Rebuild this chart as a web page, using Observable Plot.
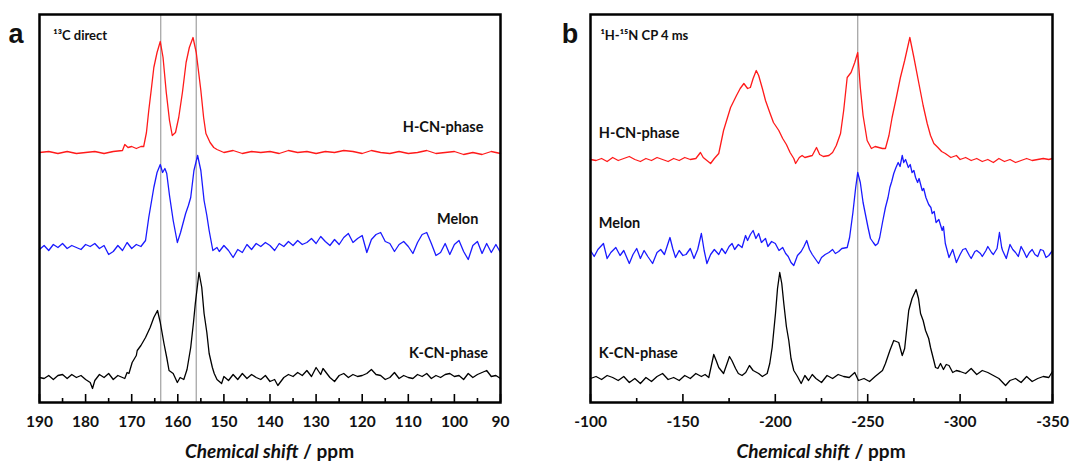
<!DOCTYPE html>
<html><head><meta charset="utf-8">
<script src="https://cdn.jsdelivr.net/npm/d3@7"></script>
<script src="https://cdn.jsdelivr.net/npm/@observablehq/plot@0.6"></script>
<style>
body{margin:0;background:#fff;}
#wrap{position:relative;width:1090px;height:462px;overflow:hidden;}
.panel{position:absolute;top:0;}
</style></head><body><div id="wrap"></div>
<script>
// ---------- DATA (chemical shift in ppm, intensity above each trace baseline) ----------
const c13_HCN = [[190,0],[188,1],[186,-1],[184,1],[182,-1],[180,0],[178,1],[176,-1],[174,1],[172,2],[171.5,8],[170.8,5],[170,6],[169,4],[168,6],[167.4,6],[166.8,20],[166.3,42],[165.7,65],[165.2,85],[164.5,100],[163.8,111],[163.2,95],[162.5,60],[161.8,32],[161.2,17],[160.5,20],[159.8,35],[159,60],[158.2,90],[157.5,105],[156.7,115],[156,100],[155,62],[154.4,35],[153.9,19],[153,10],[152.2,5],[151.5,3],[150,0],[148,2],[146,-1],[144,1],[142,0],[140,1],[138,-1],[136,2],[134,0],[132,1],[130,-1],[128,1],[126,0],[124,2],[122,1],[120,-1],[118,2],[116,0],[114,-1],[112,1],[110,-1],[108,0],[106,2],[104,-1],[102,0],[100,1],[98,-2],[96,0],[94,-2],[92,1],[90,-1]];
const c13_Melon = [[190,-2],[189,2],[188,-3],[187,3],[186,0],[185,4],[184,-1],[183,2],[182,0],[181,-2],[180,3],[179,1],[178,4],[177,-1],[176,2],[175,-7],[174,-4],[173,2],[172,-3],[171,5],[170,-1],[169,3],[168,1],[167.5,4],[167,7],[166.3,30],[165.2,60],[164.5,75],[163.8,83],[163.3,75],[162.8,79],[162.4,74],[161.8,52],[161,27],[160.1,5],[159.4,15],[158.3,34],[157.7,42],[157.2,50],[156.5,77],[155.7,92],[155,77],[154.3,47],[153.7,32],[153.2,17],[152.4,-3],[151.5,0],[151,-4],[150,2],[149,-3],[148,-10],[147,-2],[146,-5],[145,3],[144,-2],[143,4],[142,1],[141,5],[140,2],[139,-3],[138,4],[137,1],[136,6],[135,2],[134,7],[133,3],[132,5],[131,9],[130,4],[129,11],[128,6],[127,2],[126,8],[125,3],[124,10],[123,14],[122,5],[121,9],[120,12],[119,-5],[118,8],[117,13],[116,15],[115,6],[114,4],[113,-4],[112,3],[111,6],[110,1],[109,-6],[108,5],[107,13],[106,15],[105,4],[104,-8],[103,-5],[102,4],[101,-7],[100,3],[99,7],[98,-4],[97,-12],[96,2],[95,6],[94,-6],[93,4],[92,-5],[91,3],[90,-5]];
const c13_KCN = [[190,0],[189,-1],[188,2],[187,-2],[186,2],[185,3],[184,-1],[183,3],[182,0],[181,2],[180,-2],[179,-5],[178.5,-11],[178,-3],[177,3],[176,0],[175,4],[174,-2],[173,2],[172,0],[171.5,-1],[171,5],[170.6,4],[169.9,15],[169,22],[168.8,27],[168,32],[167,40],[166,50],[165.2,60],[164.4,67],[163.8,55],[163,34],[162.4,20],[161.9,7],[161,4],[160.1,-5],[159.5,0],[158.7,-2],[158,8],[157.2,30],[156.6,55],[156.2,74],[155.4,105],[154.8,90],[154.3,64],[153.7,45],[153.2,24],[152.5,10],[152.1,4],[151.5,-2],[150.5,-6],[150,1],[149,-3],[148,3],[147,-2],[146,4],[145,-1],[144,3],[143,0],[142,-2],[141,2],[140,-4],[139,-2],[138.3,-8],[137,0],[136,3],[135,1],[134,5],[133,2],[132,7],[131,1],[130,10],[129,3],[128.5,9],[127,0],[126,-4],[125,2],[124,4],[123,0],[122,3],[121,1],[120,2],[119,4],[118,8],[117,3],[116,2],[115,-2],[114,0],[113,5],[112,-1],[111,2],[110,0],[109,-1],[108,3],[107,1],[106,4],[105,-1],[104,2],[103,0],[102,3],[101,4],[100,1],[99,2],[98,-2],[97,4],[96,0],[95,3],[94,5],[93,7],[92,1],[91,2],[90,-1]];

const n15_HCN = [[-100,1],[-103,0],[-106,2],[-109,-1],[-112,3],[-115,0],[-118,2],[-121,4],[-124,1],[-127,-1],[-130,2],[-133,0],[-136,3],[-139,1],[-142,-1],[-145,2],[-148,0],[-151,3],[-154,1],[-157,2],[-159.5,8],[-161,3],[-163,0],[-165,-3],[-167,2],[-169.4,7],[-172,30],[-175.8,53],[-179,65],[-181,72],[-183,77],[-185,72],[-186.5,73],[-188,82],[-189.7,90],[-191,85],[-193,72],[-194.7,60],[-197,48],[-199,38],[-201.9,30],[-204,22],[-206,16],[-208,8],[-210,2],[-211,-3],[-213,3],[-214.5,5],[-216,3],[-218,4],[-220,5],[-222.3,13],[-224,6],[-226,4],[-229,5],[-231,8],[-233,15],[-235.3,27],[-237,50],[-238.9,83],[-241,88],[-243,98],[-244.6,108],[-246,73],[-247.5,45],[-249.7,20],[-252,12],[-254,14],[-256,13],[-258,12],[-259.6,12],[-261.5,25],[-263.2,43],[-265.5,63],[-267.7,83],[-270,100],[-272.8,123],[-275,103],[-277.7,77],[-280,55],[-282.2,37],[-284,25],[-285.8,17],[-288,13],[-290,9],[-292,7],[-295,3],[-298,5],[-300,1],[-303,3],[-306,0],[-309,2],[-312,-1],[-315,1],[-318,-2],[-321,2],[-324,-1],[-327,1],[-330,-2],[-333,0],[-336,2],[-339,0],[-342,1],[-345,2],[-348,1],[-350,2]];
const n15_Melon = [[-100,2],[-102,-4],[-104,3],[-107,9],[-109,-6],[-111,0],[-113.7,5],[-116,-3],[-118,2],[-121,-11],[-123,-2],[-125,4],[-127,-6],[-129,2],[-131,-4],[-133.6,-11],[-136,0],[-138,3],[-140,-2],[-143,15],[-144.5,4],[-146,-5],[-148,2],[-150,-3],[-151.7,-2],[-154,4],[-156,-6],[-158,3],[-160,19],[-161.5,2],[-163,-11],[-165,-2],[-167,3],[-169.4,-2],[-171,4],[-173,-1],[-175,6],[-176.6,9],[-178,3],[-180,8],[-182,5],[-183.9,17],[-185,12],[-186.5,18],[-188,22],[-189.5,14],[-191,19],[-192.5,10],[-194.7,14],[-196,6],[-198,11],[-200,9],[-202,2],[-204,5],[-205.6,-1],[-207,-4],[-208.5,-10],[-210,-13],[-212,-3],[-214,1],[-215.5,6],[-217,12],[-218.5,3],[-220,-2],[-221.5,-6],[-223.4,-11],[-225,-5],[-227,-2],[-229,0],[-231,3],[-232.5,-1],[-234.3,1],[-236,4],[-238.9,5],[-240.2,15],[-242,40],[-243.5,65],[-244.6,80],[-246,70],[-247.5,50],[-249,36],[-250.3,24],[-251.5,14],[-253,10],[-254.2,7],[-255.5,9],[-256.5,15],[-258,30],[-259.6,45],[-261,55],[-262,65],[-263,71],[-264.1,79],[-265.3,85],[-266.5,90],[-267.5,86],[-268.7,97],[-269.5,90],[-270.5,93],[-272,85],[-273,88],[-274,80],[-275,82],[-275.9,75],[-277,70],[-277.8,74],[-279.5,62],[-280.3,64],[-281.5,55],[-283,48],[-284.2,45],[-284.9,39],[-286,41],[-287,30],[-288.5,33],[-290.3,22],[-291,26],[-292,9],[-294,-5],[-296,3],[-298,-10],[-300,-2],[-301.5,3],[-303,4],[-305,-3],[-306,-6],[-308,1],[-309,2],[-311,-1],[-312,-4],[-314,2],[-315,6],[-317,0],[-318,-2],[-320,4],[-321.3,20],[-322.5,5],[-323,2],[-325,-6],[-327,8],[-328.5,3],[-330,0],[-331.5,-4],[-333,6],[-334.5,1],[-336,-5],[-337.5,0],[-339,3],[-340.5,-2],[-342,-4],[-343.5,3],[-345,2],[-346.5,-5],[-348,-3],[-350,2]];
const n15_KCN = [[-100,0],[-103,2],[-106,-1],[-109,3],[-112,1],[-115,-2],[-118,2],[-121,-4],[-124,0],[-127,-5],[-130,1],[-133,-3],[-136,2],[-139,5],[-142,-1],[-145,1],[-148,-2],[-151,3],[-154,0],[-157,5],[-160,2],[-162,4],[-164,1],[-166.7,24],[-168,18],[-169.4,11],[-172,5],[-175.2,22],[-176.5,18],[-178.5,10],[-180,5],[-182,3],[-184,6],[-186,13],[-188,8],[-191,5],[-193,2],[-195.6,5],[-197,15],[-198.3,31],[-200.1,65],[-201.2,90],[-202.4,106],[-203.5,95],[-204.6,75],[-206,52],[-207.3,38],[-208.5,20],[-210,8],[-212,2],[-214,-5],[-216,3],[-218,-2],[-220,4],[-222,0],[-225,-4],[-228,3],[-231,0],[-234,4],[-237,2],[-240,1],[-243,6],[-245,-2],[-248,0],[-251,-3],[-254,2],[-256,5],[-258,8],[-259.6,15],[-262,28],[-264.1,38],[-266.8,36],[-268.7,23],[-270,30],[-272.2,68],[-274,80],[-276.2,89],[-277.5,80],[-278.6,65],[-280,58],[-281.3,48],[-283,40],[-284,31],[-285.5,20],[-286.7,11],[-288,10],[-289.4,15],[-291,9],[-292.5,14],[-294,13],[-296,6],[-298,8],[-300,7],[-303,5],[-306,10],[-309,4],[-312,8],[-315,6],[-318,3],[-321,0],[-324.6,-7],[-327,-2],[-330,0],[-333,-4],[-336,2],[-339,-3],[-342,0],[-345,2],[-348,1],[-350,7]];

const seriesNames = ["H-CN-phase", "Melon", "K-CN-phase"];
const c13Ticks = [190,180,170,160,150,140,130,120,110,100,90];
const c13Minor = [185,175,165,155,145,135,125,115,105,95];
const n15Ticks = [-100,-150,-200,-250,-300,-350];
const n15Minor = [-125,-175,-225,-275,-325];
const c13Refs = [163.7, 156];
const n15Refs = [-244.6];

// ---------- STYLE / LAYOUT ----------
const colors = ["#ff1a1a", "#1a1aff", "#000000"];
const FONT = "Lato, 'Open Sans', sans-serif";

function makePanel({traces, offsets, domain, ticks, minor, refs, labels, labelAnchor, title, letter, letterX, left, mLeft, mRight}) {
  const rows = [];
  traces.forEach((t, i) => t.forEach(([x, h]) => rows.push({x, y: h + offsets[i], s: seriesNames[i]})));
  const plot = Plot.plot({
    width: 545, height: 462,
    marginLeft: mLeft, marginRight: mRight, marginTop: 14, marginBottom: 60,
    style: {fontFamily: FONT, background: "transparent", overflow: "visible"},
    x: {domain, label: null},
    y: {domain: [0, 388], axis: null},
    color: {domain: seriesNames, range: colors},
    marks: [
      Plot.ruleX(refs, {stroke: "#a0a0a0", strokeWidth: 1.2}),
      Plot.line(rows, {x: "x", y: "y", z: "s", stroke: "s", strokeWidth: 1.3}),
      Plot.axisX({ticks: minor, tickSize: -4, tickFormat: () => "", label: null, strokeWidth: 1.6}),
      Plot.axisX({ticks, tickSize: -8, tickPadding: 21, tickFormat: d => String(d), label: null,
                  fontSize: 15.5, fontWeight: "bold", fill: "#111", strokeWidth: 1.6}),
      Plot.text(labels, {x: "x", y: "y", text: "t", textAnchor: labelAnchor, fontSize: 14.5, fontWeight: "bold", fill: "#111"}),
      Plot.text([title], {x: "x", y: "y", text: "t", textAnchor: "start", fontSize: 13, fontWeight: "bold", fill: "#111"}),
      Plot.frame({stroke: "#000", strokeWidth: 2.5})
    ]
  });
  plot.classList.add("panel");
  plot.style.left = left + "px";
  const svg = d3.select(plot);
  const xr = plot.scale("x").range;
  const t = svg.append("text")
    .attr("x", (xr[0] + xr[1]) / 2).attr("y", 458)
    .attr("text-anchor", "middle").attr("font-size", 19).attr("font-weight", "bold")
    .attr("font-family", FONT).attr("fill", "#111");
  t.append("tspan").attr("font-style", "italic").text("Chemical shift");
  t.append("tspan").text(" / ppm");
  svg.append("text").attr("x", letterX).attr("y", 43).attr("text-anchor", "middle")
    .attr("font-size", 27).attr("font-weight", "bold").attr("font-family", "'Liberation Sans', Arial, sans-serif")
    .attr("fill", "#111").text(letter);
  document.getElementById("wrap").appendChild(plot);
}

makePanel({
  traces: [c13_HCN, c13_Melon, c13_KCN], offsets: [250, 155, 25],
  domain: [190, 90], ticks: c13Ticks, minor: c13Minor, refs: c13Refs,
  labels: [{x: 93.7, y: 275, t: "H-CN-phase"}, {x: 94.8, y: 183, t: "Melon"}, {x: 92.7, y: 49, t: "K-CN-phase"}],
  labelAnchor: "end",
  title: {x: 187, y: 367, t: "¹³C direct"}, letter: "a", letterX: 16,
  left: 0, mLeft: 39, mRight: 45
});
makePanel({
  traces: [n15_HCN, n15_Melon, n15_KCN], offsets: [242, 150, 24],
  domain: [-100, -350], ticks: n15Ticks, minor: n15Minor, refs: n15Refs,
  labels: [{x: -104.5, y: 269, t: "H-CN-phase"}, {x: -104.5, y: 179, t: "Melon"}, {x: -104.5, y: 49, t: "K-CN-phase"}],
  labelAnchor: "start",
  title: {x: -105.4, y: 367, t: "¹H-¹⁵N CP 4 ms"}, letter: "b", letterX: 25,
  left: 545, mLeft: 45, mRight: 38
});
</script></body></html>
